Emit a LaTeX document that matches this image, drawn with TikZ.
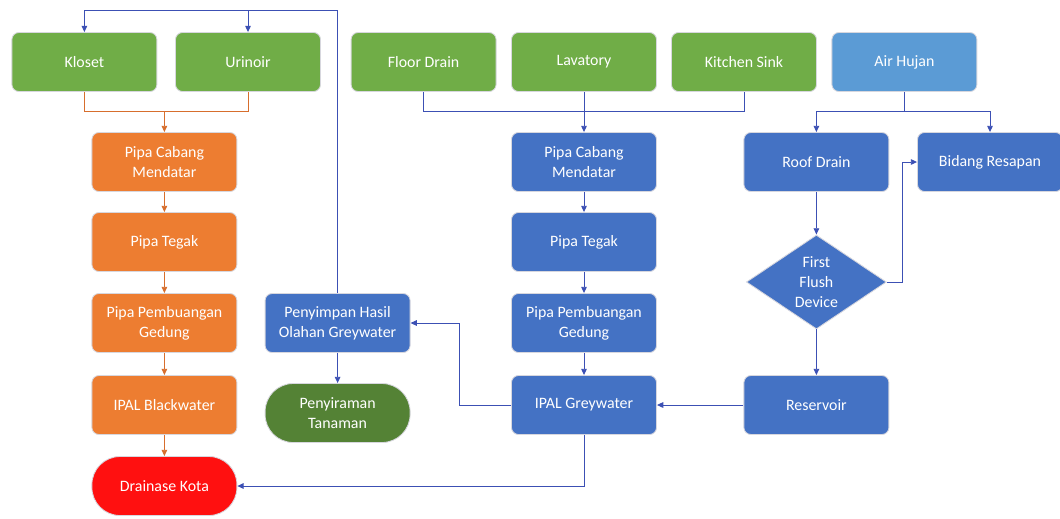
\documentclass[tikz,border=0pt]{standalone}
\usepackage{fontspec}
\setmainfont{Carlito}
\usepackage{tikz}
\usetikzlibrary{arrows.meta,shapes.geometric}
\definecolor{fxgreen}{HTML}{70AD47}
\definecolor{tagreen}{HTML}{548235}
\definecolor{bworange}{HTML}{ED7D31}
\definecolor{gwblue}{HTML}{4472C4}
\definecolor{rainblue}{HTML}{5B9BD5}
\definecolor{citred}{HTML}{FF1010}
\definecolor{linkblue}{RGB}{60,80,180}
\definecolor{linkorange}{RGB}{215,110,45}
\definecolor{rim}{RGB}{215,215,222}

\begin{document}
\begin{tikzpicture}[
  every node/.style={font=\fontsize{11.3}{14.2}\selectfont, text=white, align=center},
  box/.style={draw=rim, line width=0.6pt, rounded corners=5pt, minimum width=3.625cm,
    minimum height=1.475cm, inner sep=2pt},
  fixture/.style={box, fill=fxgreen},
  bwbox/.style={box, fill=bworange},
  gwbox/.style={box, fill=gwblue},
  rainbox/.style={box, fill=rainblue},
  ends/.style={box, rounded corners=20pt},
  flushbox/.style={diamond, draw=rim, line width=0.6pt, fill=gwblue, inner sep=0pt,
    minimum width=3.5cm, minimum height=2.33cm},
  bline/.style={draw=linkblue, line width=0.7pt},
  oline/.style={draw=linkorange, line width=0.7pt},
  >={Triangle[length=4.5pt,width=4pt]}
]
  \useasboundingbox (0,0) rectangle (26.5,-12.95);
  \def\colK{2.11}\def\colU{6.20}\def\colO{4.11}\def\colP{8.44}
  \def\colF{10.59}\def\colG{14.60}\def\colS{18.60}\def\colH{22.61}
  \def\colR{20.41}\def\colB{24.75}
  \def\rowA{-1.55}\def\rowB{-4.05}\def\rowC{-6.05}\def\rowD{-8.075}
  \def\rowE{-10.125}\def\rowF{-12.15}

  % sources
  \node[fixture] (kloset) at (\colK,\rowA) {Kloset};
  \node[fixture] (urinoir) at (\colU,\rowA) {Urinoir};
  \node[fixture] (floor) at (\colF,\rowA) {Floor Drain};
  \node[fixture] (lav) at (\colG,\rowA) {Lavatory};
  \node[fixture] (kitchen) at (\colS,\rowA) {Kitchen Sink};
  \node[rainbox] (hujan) at (\colH,\rowA) {Air Hujan};

  % blackwater column
  \node[bwbox] (ocab) at (\colO,\rowB) {Pipa Cabang\\Mendatar};
  \node[bwbox] (oteg) at (\colO,\rowC) {Pipa Tegak};
  \node[bwbox] (opem) at (\colO,\rowD) {Pipa Pembuangan\\Gedung};
  \node[bwbox] (ipalb) at (\colO,\rowE) {IPAL Blackwater};
  \node[ends, fill=citred] (drain) at (\colO,\rowF) {Drainase Kota};

  % reuse
  \node[gwbox] (peny) at (\colP,\rowD) {Penyimpan Hasil\\Olahan Greywater};
  \node[ends, fill=tagreen] (siram) at (\colP,-10.325) {Penyiraman\\Tanaman};

  % greywater column
  \node[gwbox] (gcab) at (\colG,\rowB) {Pipa Cabang\\Mendatar};
  \node[gwbox] (gteg) at (\colG,\rowC) {Pipa Tegak};
  \node[gwbox] (gpem) at (\colG,\rowD) {Pipa Pembuangan\\Gedung};
  \node[gwbox] (ipalg) at (\colG,\rowE) {IPAL Greywater};

  % rainwater
  \node[gwbox] (roof) at (\colR,\rowB) {Roof Drain};
  \node[gwbox] (resapan) at (\colB,\rowB) {Bidang Resapan};
  \node[flushbox] (ffd) at (\colR,-7.05) {First\\Flush\\Device};
  \node[gwbox] (reservoir) at (\colR,\rowE) {Reservoir};

  % bus points
  \coordinate (ret) at (\colP,-0.25);
  \coordinate (bbus) at (\colO,-2.78);
  \coordinate (gbus) at (\colG,-2.78);
  \coordinate (rbus) at (\colH,-2.78);

  % blackwater links
  \draw[oline] (kloset.south) |- (bbus) -| (urinoir.south);
  \draw[oline,->] (bbus) -- (ocab.north);
  \draw[oline,->] (ocab) -- (oteg);
  \draw[oline,->] (oteg) -- (opem);
  \draw[oline,->] (opem) -- (ipalb);
  \draw[oline,->] (ipalb) -- (drain);

  % greywater links
  \draw[bline] (floor.south) |- (gbus) -| (kitchen.south);
  \draw[bline,->] (lav.south) -- (gcab.north);
  \draw[bline,->] (gcab) -- (gteg);
  \draw[bline,->] (gteg) -- (gpem);
  \draw[bline,->] (gpem) -- (ipalg);
  \draw[bline,->] (ipalg.west) -- ++(-1.29,0) |- (peny.east);
  \draw[bline,->] (ipalg.south) |- (drain.east);

  % reuse links
  \draw[bline,->] (peny.north) -- (ret) -| (kloset.north);
  \draw[bline,->] (urinoir.north |- ret) -- (urinoir.north);
  \draw[bline,->] (peny) -- (siram);

  % rainwater links
  \draw[bline] (hujan.south) -- (rbus);
  \draw[bline,->] (rbus) -| (roof.north);
  \draw[bline,->] (rbus) -| (resapan.north);
  \draw[bline,->] (roof) -- (ffd);
  \draw[bline,->] (ffd.east) -- ++(0.38,0) |- (resapan.west);
  \draw[bline,->] (ffd) -- (reservoir);
  \draw[bline,->] (reservoir) -- (ipalg);
\end{tikzpicture}
\end{document}
